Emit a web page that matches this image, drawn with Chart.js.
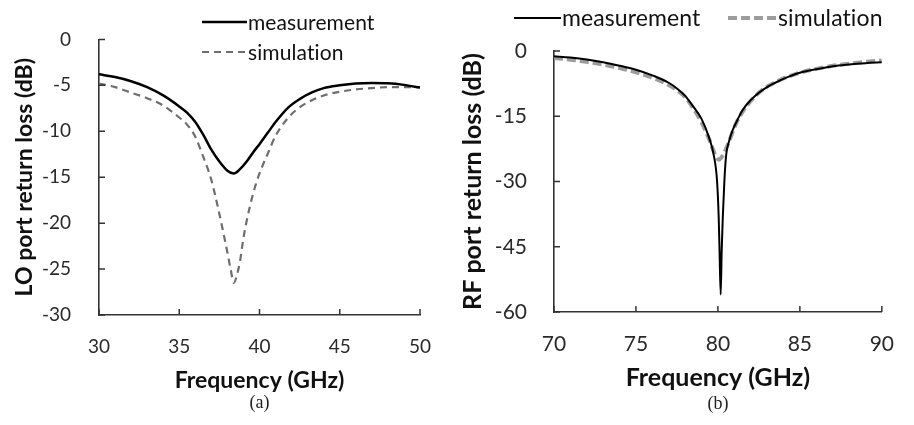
<!DOCTYPE html>
<html>
<head>
<meta charset="utf-8">
<script src="https://cdn.jsdelivr.net/npm/chart.js@4.4.0/dist/chart.umd.min.js"></script>
<style>
  html, body { margin: 0; padding: 0; background: #fff; }
  #wrap { position: relative; width: 914px; height: 425px; overflow: hidden; }
  .panel { position: absolute; top: 0; width: 457px; height: 425px; }
</style>
</head>
<body>
<div id="wrap">
  <div class="panel" style="left:0"><canvas id="loChart"></canvas></div>
  <div class="panel" style="left:457px"><canvas id="rfChart"></canvas></div>
</div>
<script>
// --- (a) LO port ---
const loMeasFreq = [30, 31, 32, 33, 34, 35, 35.5, 36, 36.5, 37, 37.5, 38, 38.4, 38.8, 39.2, 39.6, 40, 40.5, 41, 41.8, 42.5, 43.3, 44, 45, 46, 47, 48, 49, 50];
const loMeasLoss = [-3.8, -4.1, -4.55, -5.2, -6.1, -7.3, -8.0, -9.0, -10.4, -12.0, -13.3, -14.3, -14.6, -14.1, -13.3, -12.3, -11.4, -10.2, -9.0, -7.4, -6.5, -5.75, -5.3, -5.0, -4.8, -4.75, -4.78, -4.95, -5.25];
const loSimFreq = [30, 31, 32, 33, 34, 35, 35.5, 36, 36.5, 37, 37.5, 38, 38.2, 38.4, 38.6, 38.8, 39, 39.4, 39.8, 40.2, 40.5, 41, 41.8, 42.5, 43.3, 44, 45, 46, 47, 48, 49, 50];
const loSimLoss = [-4.8, -5.2, -5.8, -6.4, -7.2, -8.5, -9.3, -10.6, -12.8, -15.3, -19.0, -23.2, -25.0, -26.5, -25.6, -24.0, -21.6, -18.2, -15.6, -13.7, -12.5, -10.5, -8.5, -7.4, -6.6, -6.1, -5.7, -5.45, -5.3, -5.2, -5.2, -5.2];
const loFreqTicks = [30, 35, 40, 45, 50];
const loLossTicks = [0, -5, -10, -15, -20, -25, -30];

// --- (b) RF port ---
const rfMeasFreq = [70, 71, 72, 73, 74, 75, 76, 77, 77.5, 78, 78.5, 79, 79.45, 79.75, 79.95, 80.05, 80.1, 80.17, 80.23, 80.3, 80.4, 80.5, 80.7, 80.9, 81.2, 81.5, 82, 82.5, 83, 83.5, 84, 85, 86, 87, 88, 89, 90];
const rfMeasLoss = [-1.2, -1.5, -1.95, -2.6, -3.4, -4.3, -5.6, -7.3, -8.6, -10.3, -12.8, -15.6, -19.8, -24.0, -30.0, -38.5, -46.0, -56.0, -46.0, -38.0, -29.5, -24.0, -20.5, -18.2, -15.8, -13.6, -11.3, -9.6, -8.3, -7.3, -6.4, -5.0, -4.2, -3.5, -3.1, -2.8, -2.6];
const rfSimFreq = [70, 71, 72, 73, 74, 75, 76, 77, 77.5, 78, 78.5, 79, 79.5, 79.8, 80.05, 80.3, 80.5, 80.7, 81.1, 81.5, 82, 82.5, 83, 83.5, 84, 85, 86, 87, 88, 89, 90];
const rfSimLoss = [-1.6, -2.0, -2.5, -3.1, -3.9, -4.9, -6.1, -7.8, -9.0, -10.6, -13.2, -16.4, -20.6, -23.6, -25.0, -24.0, -22.5, -20.6, -16.7, -14.0, -11.5, -9.6, -8.2, -7.2, -6.3, -5.0, -4.1, -3.4, -2.9, -2.5, -2.2];
const rfFreqTicks = [70, 75, 80, 85, 90];
const rfLossTicks = [0, -15, -30, -45, -60];

const seriesNames = ['measurement', 'simulation'];

function toPoints(xs, ys) {
    return xs.map((x, i) => ({ x: x, y: ys[i] }));
}

// petits traits de graduation vers l'intérieur + légende + légende (a)/(b)
const decorPlugin = {
    id: 'decor',
    afterDraw(chart, args, opts) {
        const ctx = chart.ctx;
        const xs = chart.scales.x, ys = chart.scales.y;
        const area = chart.chartArea;
        ctx.save();
        ctx.strokeStyle = '#333';
        ctx.lineWidth = 1.5;
        ctx.beginPath();
        xs.ticks.forEach(t => {
            const px = xs.getPixelForValue(t.value);
            ctx.moveTo(px, area.bottom);
            ctx.lineTo(px, area.bottom - 6);
        });
        ys.ticks.forEach(t => {
            const py = ys.getPixelForValue(t.value);
            ctx.moveTo(area.left, py);
            ctx.lineTo(area.left + 6, py);
        });
        ctx.stroke();

        // légende
        ctx.font = opts.legendFont;
        ctx.letterSpacing = '0.1px'; // évite la ligature "ti" de Lato
        ctx.textBaseline = 'middle';
        ctx.textAlign = 'left';
        opts.legend.forEach((item, i) => {
            const ds = chart.data.datasets[i];
            ctx.strokeStyle = ds.borderColor;
            ctx.lineWidth = ds.borderWidth;
            ctx.setLineDash(ds.borderDash || []);
            ctx.beginPath();
            ctx.moveTo(item.x1, item.y);
            ctx.lineTo(item.x2, item.y);
            ctx.stroke();
            ctx.setLineDash([]);
            ctx.fillStyle = '#111';
            ctx.fillText(ds.label, item.x2 + 1, item.y + 1);
        });

        // légende (a) / (b)
        ctx.letterSpacing = '0px';
        ctx.font = opts.captionFont;
        ctx.textAlign = 'center';
        ctx.fillStyle = '#222';
        ctx.fillText(opts.caption, (area.left + area.right) / 2, opts.captionY);
        ctx.restore();
    }
};

function makeChart(canvasId, cfg) {
    const ctx = document.getElementById(canvasId).getContext('2d');
    return new Chart(ctx, {
        type: 'line',
        data: {
            datasets: [{
                label: seriesNames[0],
                data: toPoints(cfg.measFreq, cfg.measLoss),
                borderColor: '#000',
                borderWidth: cfg.measWidth,
                pointRadius: 0,
                cubicInterpolationMode: 'monotone'
            }, {
                label: seriesNames[1],
                data: toPoints(cfg.simFreq, cfg.simLoss),
                borderColor: cfg.simColor,
                borderWidth: cfg.simWidth,
                borderDash: cfg.simDash,
                pointRadius: 0,
                cubicInterpolationMode: 'monotone'
            }]
        },
        options: {
            responsive: false,
            animation: false,
            layout: { padding: cfg.padding },
            plugins: {
                legend: { display: false },
                tooltip: { enabled: false },
                decor: cfg.decor
            },
            scales: {
                x: {
                    type: 'linear',
                    min: cfg.freqTicks[0],
                    max: cfg.freqTicks[cfg.freqTicks.length - 1],
                    afterBuildTicks: s => { s.ticks = cfg.freqTicks.map(v => ({ value: v })); },
                    afterFit: s => { s.height = cfg.xAxisHeight; },
                    grid: { display: false, drawTicks: false },
                    border: { display: true, color: '#333', width: 1.6 },
                    ticks: { color: '#2a2a2a', padding: cfg.xTickPad, font: { family: 'Lato', size: cfg.tickSize } },
                    title: {
                        display: true,
                        text: 'Frequency (GHz)',
                        color: '#111',
                        padding: { top: 0, bottom: cfg.xTitlePad },
                        font: { family: 'Lato', size: cfg.titleSize, weight: 'bold' }
                    }
                },
                y: {
                    min: cfg.lossTicks[cfg.lossTicks.length - 1],
                    max: cfg.lossTicks[0],
                    afterBuildTicks: s => { s.ticks = cfg.lossTicks.slice().reverse().map(v => ({ value: v })); },
                    afterFit: s => { s.width = cfg.yAxisWidth; },
                    grid: { display: false, drawTicks: false },
                    border: { display: true, color: '#333', width: 1.6 },
                    ticks: { color: '#2a2a2a', padding: cfg.yTickPad, font: { family: 'Lato', size: cfg.tickSize } },
                    title: {
                        display: true,
                        text: cfg.yTitle,
                        color: '#111',
                        padding: { top: cfg.yTitlePad, bottom: 0 },
                        font: { family: 'Lato', size: cfg.titleSize, weight: 'bold' }
                    }
                }
            }
        },
        plugins: [decorPlugin]
    });
}

document.getElementById('loChart').width = 457;
document.getElementById('loChart').height = 425;
document.getElementById('rfChart').width = 457;
document.getElementById('rfChart').height = 425;

makeChart('loChart', {
    measFreq: loMeasFreq, measLoss: loMeasLoss,
    simFreq: loSimFreq, simLoss: loSimLoss,
    freqTicks: loFreqTicks, lossTicks: loLossTicks,
    yTitle: 'LO port return loss (dB)',
    measWidth: 2.5, simWidth: 2.2, simColor: '#6e6e6e', simDash: [7, 5],
    padding: { left: 0, top: 29, right: 37, bottom: 0 },
    xAxisHeight: 110, yAxisWidth: 99,
    tickSize: 19, titleSize: 23,
    xTickPad: 20, yTickPad: 28, xTitlePad: 31, yTitlePad: 11,
    decor: {
        legendFont: '21px Lato',
        legend: [{ x1: 202, x2: 247, y: 22 }, { x1: 202, x2: 247, y: 52 }],
        caption: '(a)', captionFont: '18px "Liberation Serif"', captionY: 403
    }
});

makeChart('rfChart', {
    measFreq: rfMeasFreq, measLoss: rfMeasLoss,
    simFreq: rfSimFreq, simLoss: rfSimLoss,
    freqTicks: rfFreqTicks, lossTicks: rfLossTicks,
    yTitle: 'RF port return loss (dB)',
    measWidth: 2, simWidth: 4, simColor: '#9c9c9c', simDash: [9, 4],
    padding: { left: 0, top: 51, right: 14, bottom: 0 },
    xAxisHeight: 113, yAxisWidth: 97,
    tickSize: 21, titleSize: 25,
    xTickPad: 20, yTickPad: 27, xTitlePad: 32, yTitlePad: 1,
    decor: {
        legendFont: '23px Lato',
        legend: [{ x1: 57, x2: 104, y: 18 }, { x1: 271, x2: 320, y: 18 }],
        caption: '(b)', captionFont: '18px "Liberation Serif"', captionY: 404
    }
});
</script>
</body>
</html>
